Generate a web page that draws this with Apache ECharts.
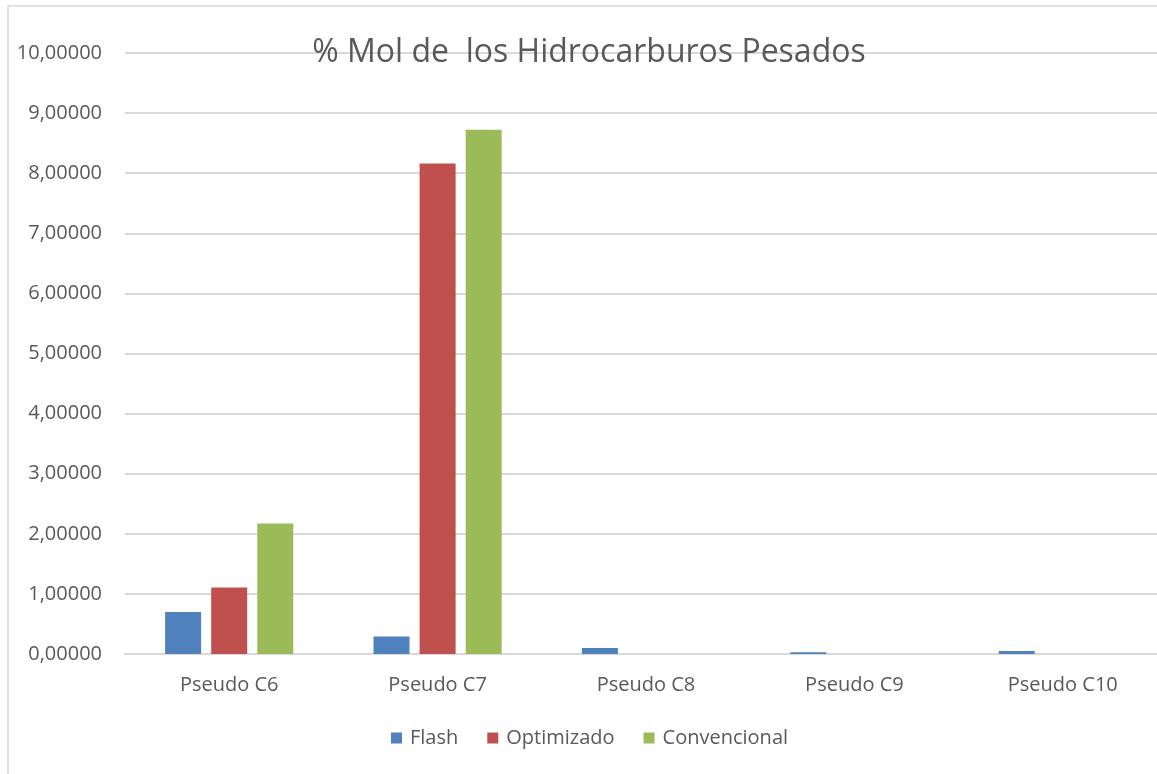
<!DOCTYPE html>
<html>
<head>
<meta charset="utf-8">
<script src="https://cdn.jsdelivr.net/npm/echarts@6/dist/echarts.min.js"></script>
<style>
  html, body { margin: 0; padding: 0; background: #fff; }
  #chart { width: 1157px; height: 774px; }
</style>
</head>
<body>
<div id="chart"></div>
<script>
// Heavy hydrocarbon pseudo-components, mol %
const categories = ['Pseudo C6', 'Pseudo C7', 'Pseudo C8', 'Pseudo C9', 'Pseudo C10'];
const flash = [0.70, 0.29, 0.10, 0.03, 0.05];
const optimizado = [1.105, 8.16, 0, 0, 0];
const convencional = [2.17, 8.725, 0, 0, 0];
const seriesNames = ['Flash', 'Optimizado', 'Convencional'];
const colors = ['#4f81bd', '#c0504d', '#9bbb59'];
const titleText = '% Mol de  los Hidrocarburos Pesados';

const FONT = '"Open Sans", Lato, sans-serif';
const chart = echarts.init(document.getElementById('chart'));

const values = [flash, optimizado, convencional];

chart.setOption({
  animation: false,
  backgroundColor: '#fff',
  title: {
    text: titleText,
    left: 584,
    textAlign: 'center',
    top: 32,
    textStyle: { fontFamily: FONT, fontSize: 32, fontWeight: 'normal', color: '#595959' }
  },
  legend: {
    data: seriesNames,
    top: 723,
    left: 386,
    itemWidth: 11,
    itemHeight: 11,
    itemGap: 29,
    icon: 'rect',
    textStyle: { fontFamily: FONT, fontSize: 20, color: '#595959', padding: [0, 0, 0, 3] }
  },
  graphic: [{
    type: 'rect',
    shape: { x: 8, y: 6, width: 1200, height: 800 },
    style: { fill: 'none', stroke: '#d9d9d9', lineWidth: 1.5 },
    silent: true,
    z: -1
  }],
  grid: { left: 125, top: 53, width: 1042, height: 601, outerBoundsMode: 'none' },
  xAxis: {
    type: 'category',
    data: categories,
    axisLine: { show: true, lineStyle: { color: '#d9d9d9', width: 2 } },
    axisTick: { show: false },
    axisLabel: { fontFamily: FONT, fontSize: 20, color: '#595959', margin: 21 }
  },
  yAxis: {
    type: 'value',
    min: 0,
    max: 10,
    interval: 1,
    axisLine: { show: false },
    axisTick: { show: false },
    splitLine: { lineStyle: { color: '#d9d9d9', width: 2 } },
    axisLabel: {
      fontFamily: FONT, fontSize: 20, color: '#595959', margin: 23,
      formatter: v => v.toFixed(5).replace('.', ',')
    }
  },
  series: seriesNames.map((name, i) => ({
    name,
    type: 'bar',
    data: values[i],
    barWidth: 36,
    barGap: '28%',
    itemStyle: { color: colors[i] }
  }))
});
</script>
</body>
</html>
